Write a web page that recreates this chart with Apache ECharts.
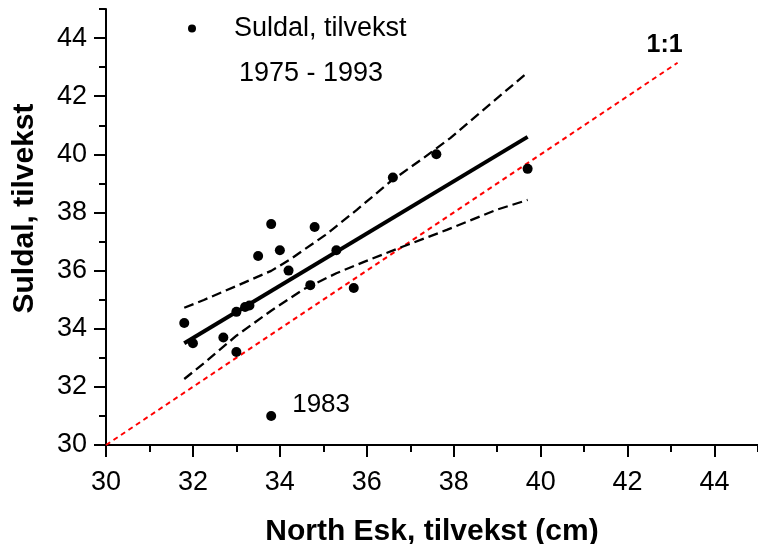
<!DOCTYPE html>
<html>
<head>
<meta charset="utf-8">
<script src="https://cdn.jsdelivr.net/npm/echarts@6/dist/echarts.min.js"></script>
<style>
html,body{margin:0;padding:0;background:#fff;}
#chart{width:758px;height:544px;}
</style>
</head>
<body>
<div id="chart"></div>
<script>
// Observed points (Suldal vs North Esk, 1975-1993)
var northEsk = [31.8, 32.0, 32.7, 33.0, 33.0, 33.2, 33.3, 33.8, 33.5, 33.8, 34.0, 34.2, 34.7, 34.8, 35.3, 35.7, 36.6, 37.6, 39.7];
var suldal   = [34.2, 33.5, 33.7, 34.58, 33.2, 34.75, 34.8, 31.0, 36.5, 37.6, 36.7, 36.0, 35.5, 37.5, 36.7, 35.4, 39.2, 40.0, 39.5];
var outlierIndex = 7; // 1983
var outlierLabel = '1983';

// Regression line
var regX = [31.8, 39.7];
var regY = [33.5, 40.6];

// Confidence band (upper / lower)
var upX = [31.8, 32.25, 33.0, 33.8, 34.25, 35.05, 35.77, 36.54, 37.3, 37.92, 39.7];
var upY = [34.72, 34.99, 35.47, 35.99, 36.4, 37.23, 38.09, 39.06, 39.87, 40.56, 42.82];
var loX = [31.8, 32.25, 33.0, 33.8, 34.55, 35.3, 35.95, 36.75, 37.84, 39.0, 39.7];
var loY = [32.27, 32.81, 33.76, 34.62, 35.36, 35.91, 36.31, 36.78, 37.4, 38.1, 38.43];

// 1:1 line
var oneX = [30, 43.15];
var oneY = [30, 43.15];
var oneLabel = '1:1';

// Axis ticks
var xTicks = [30, 32, 34, 36, 38, 40, 42, 44];
var yTicks = [30, 32, 34, 36, 38, 40, 42, 44];
var xName = 'North Esk, tilvekst (cm)';
var yName = 'Suldal, tilvekst';
var seriesName = 'Suldal, tilvekst';
var periodText = '1975 - 1993';

function pairs(xs, ys) { return xs.map(function (x, i) { return [x, ys[i]]; }); }

var FONT = '"Liberation Sans", Arial, sans-serif';

var scatterData = pairs(northEsk, suldal).map(function (p, i) {
  if (i === outlierIndex) {
    return {
      value: p,
      label: {
        show: true, formatter: outlierLabel, position: 'right', distance: 16,
        offset: [0, -11], color: '#000', fontSize: 26, fontFamily: FONT
      }
    };
  }
  return p;
});

var oneData = pairs(oneX, oneY).map(function (p, i) {
  if (i === oneX.length - 1) {
    return {
      value: p,
      label: {
        show: true, formatter: oneLabel, position: 'top', distance: 5, offset: [-13, 0],
        color: '#000', fontSize: 25, fontWeight: 'bold', fontFamily: FONT
      }
    };
  }
  return p;
});

var chart = echarts.init(document.getElementById('chart'), null, { renderer: 'canvas' });

var mainAxisCommon = {
  type: 'value', min: 30, max: 45, interval: 2,
  axisLine: { show: true, lineStyle: { color: '#000', width: 2 } },
  axisTick: { show: true, inside: false, length: 12, lineStyle: { color: '#000', width: 2 } },
  splitLine: { show: false },
  axisLabel: { color: '#000', fontSize: 27, fontFamily: FONT }
};

var option = {
  backgroundColor: '#fff',
  animation: false,
  grid: { left: 106, right: 0, top: 9, bottom: 99, containLabel: false, outerBoundsMode: 'none' },
  legend: {
    show: true, data: [seriesName], left: 188, top: 15, padding: 0,
    icon: 'circle', itemWidth: 8, itemHeight: 8,
    textStyle: { color: '#000', fontSize: 27, fontFamily: FONT, padding: [0, 0, 0, 33] }
  },
  xAxis: [
    Object.assign({}, mainAxisCommon, {
      position: 'bottom',
      axisTick: Object.assign({}, mainAxisCommon.axisTick, { customValues: xTicks }),
      axisLabel: Object.assign({}, mainAxisCommon.axisLabel, { margin: 24, customValues: xTicks }),
      name: xName, nameLocation: 'middle', nameGap: 72,
      nameTextStyle: { color: '#000', fontSize: 30, fontWeight: 'bold', fontFamily: FONT }
    }),
    {
      type: 'value', min: 30, max: 45, interval: 1, position: 'bottom',
      axisLine: { show: false }, axisLabel: { show: false }, splitLine: { show: false },
      axisTick: { show: true, length: 7, lineStyle: { color: '#000', width: 2 } }
    }
  ],
  yAxis: [
    Object.assign({}, mainAxisCommon, {
      position: 'left',
      axisTick: Object.assign({}, mainAxisCommon.axisTick, { customValues: yTicks }),
      axisLabel: Object.assign({}, mainAxisCommon.axisLabel, { margin: 19, customValues: yTicks })
    }),
    {
      type: 'value', min: 30, max: 45, interval: 1, position: 'left',
      axisLine: { show: false }, axisLabel: { show: false }, splitLine: { show: false },
      axisTick: { show: true, length: 7, lineStyle: { color: '#000', width: 2 } }
    }
  ],
  graphic: [
    {
      type: 'text', x: 25, y: 208.5, rotation: Math.PI / 2,
      style: { text: yName, fill: '#000', font: 'bold 30px ' + FONT, textAlign: 'center', textVerticalAlign: 'middle' }
    },
    {
      type: 'text', x: 239, y: 73.5,
      style: { text: periodText, fill: '#000', font: '27px ' + FONT, textAlign: 'left', textVerticalAlign: 'middle' }
    }
  ],
  series: [
    {
      name: '1:1', type: 'line', data: oneData, showSymbol: true, symbol: 'circle', symbolSize: 1,
      itemStyle: { color: 'rgba(0,0,0,0)' },
      lineStyle: { color: '#ff0000', width: 2, type: [5, 4] }, z: 2, silent: true
    },
    {
      name: 'upper', type: 'line', data: pairs(upX, upY), showSymbol: false, symbol: 'none',
      lineStyle: { color: '#000', width: 2.3, type: [10, 5] }, z: 3, silent: true
    },
    {
      name: 'lower', type: 'line', data: pairs(loX, loY), showSymbol: false, symbol: 'none',
      lineStyle: { color: '#000', width: 2.3, type: [10, 5] }, z: 3, silent: true
    },
    {
      name: 'regression', type: 'line', data: pairs(regX, regY), showSymbol: false, symbol: 'none',
      lineStyle: { color: '#000', width: 4 }, z: 4, silent: true
    },
    {
      name: seriesName, type: 'scatter', data: scatterData, symbol: 'circle', symbolSize: 10,
      itemStyle: { color: '#000', opacity: 1 }, z: 5
    }
  ]
};
chart.setOption(option);
</script>
</body>
</html>
